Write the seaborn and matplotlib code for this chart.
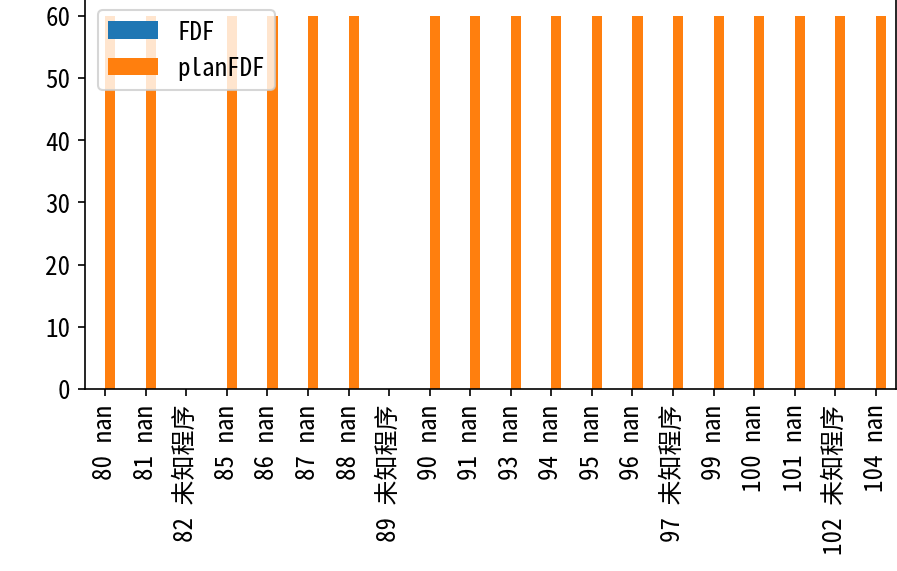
import pandas as pd
import matplotlib
matplotlib.use("Agg")
import matplotlib.pyplot as plt
import seaborn as sns

plt.rcParams['font.family'] = ['Noto Sans Mono CJK SC', 'Noto Sans CJK SC', 'DejaVu Sans']
plt.rcParams['font.size'] = 12

labels = ["80 nan", "81 nan", "82 未知程序", "85 nan", "86 nan", "87 nan", "88 nan",
          "89 未知程序", "90 nan", "91 nan", "93 nan", "94 nan", "95 nan", "96 nan",
          "97 未知程序", "99 nan", "100 nan", "101 nan", "102 未知程序", "104 nan"]
fdf = [0, 0, 0, 0, 0, 0, 0, 0, 0, 0, 0, 0, 0, 0, 0, 0, 0, 0, 0, 0]
plan_fdf = [60, 60, 0, 60, 60, 60, 60, 0, 60, 60, 60, 60, 60, 60, 60, 60, 60, 60, 60, 60]
series = ["FDF", "planFDF"]

df = pd.DataFrame({
    "label": labels + labels,
    "series": [series[0]] * len(labels) + [series[1]] * len(labels),
    "value": fdf + plan_fdf,
})

fig = plt.figure(figsize=(5.98, 3.813), dpi=150)
ax = fig.add_axes([85 / 897, 182 / 572, 811 / 897, 392 / 572])
sns.barplot(data=df, x="label", y="value", hue="series",
            palette=["#1f77b4", "#ff7f0e"], saturation=1, width=0.5, ax=ax)
ax.set_xlabel("")
ax.set_ylabel("")
ax.tick_params(axis="x", rotation=90)
sns.move_legend(ax, "upper left", title=None)

fig.savefig("out.png", dpi=150)
